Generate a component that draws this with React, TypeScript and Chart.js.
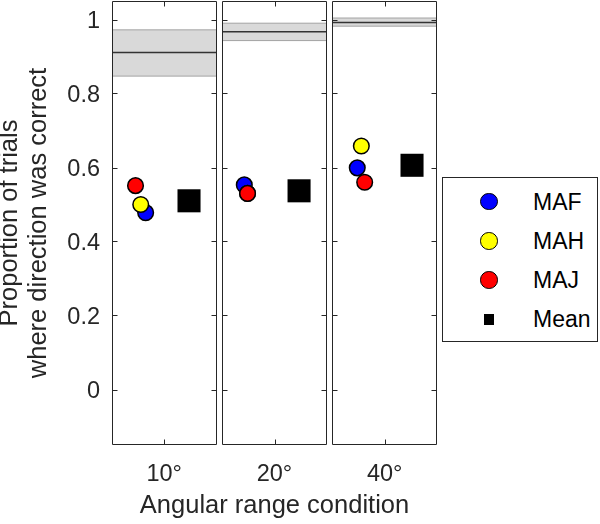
import React, { useEffect, useRef } from "react";
import { Chart, registerables } from "chart.js";

Chart.register(...registerables);

// ---------- data ----------
const categories = ["10°", "20°", "40°"];
const yTickValues = [0, 0.2, 0.4, 0.6, 0.8, 1];
const seriesNames = ["MAF", "MAH", "MAJ", "Mean"];

// ideal-observer band per condition
const idealMean = [0.911, 0.967, 0.992];
const idealLow = [0.847, 0.943, 0.982];
const idealHigh = [0.972, 0.99, 1.004];

// observers
const mafValues = [0.478, 0.553, 0.599];
const mahValues = [0.5, 0.53, 0.658];
const majValues = [0.551, 0.53, 0.56];
const meanValues = [0.51, 0.537, 0.606];

// horizontal jitter inside each panel (0..1 of the panel)
const mafJitter = [0.322, 0.211, 0.237];
const mahJitter = [0.275, 0.242, 0.276];
const majJitter = [0.225, 0.242, 0.308];
const meanJitter = [0.737, 0.735, 0.761];

// ---------- layout helpers ----------
const PANEL_SPAN = 1;
const PANEL_GAP = 0.055;
const X_MAX = categories.length * PANEL_SPAN + (categories.length - 1) * PANEL_GAP;
const panelStart = (i: number) => i * (PANEL_SPAN + PANEL_GAP);

const FONT = '"Liberation Sans", Arial, Helvetica, sans-serif';
const AXIS_COLOR = "#262626";

const seriesStyles = [
  { bg: "#0000ff", border: "#000000", style: "circle" },
  { bg: "#ffff00", border: "#000000", style: "circle" },
  { bg: "#ff0000", border: "#000000", style: "circle" },
  { bg: "#000000", border: "#000000", style: "rect" },
];

function pts(values: number[], jitter: number[]) {
  return values.map((v, i) => ({ x: panelStart(i) + jitter[i] * PANEL_SPAN, y: v }));
}

const panelFrame = {
  id: "panelFrame",
  afterDatasetsDraw(chart: any) {
    const { ctx, chartArea, scales } = chart;
    const x = scales.x;
    const y = scales.y;
    const top = Math.round(chartArea.top) + 0.5;
    const bottom = Math.round(chartArea.bottom) - 0.5;
    ctx.save();
    ctx.strokeStyle = AXIS_COLOR;
    ctx.lineWidth = 1;
    const tl = 5;
    categories.forEach((_, i) => {
      const l = Math.round(x.getPixelForValue(panelStart(i))) + 0.5;
      const r = Math.round(x.getPixelForValue(panelStart(i) + PANEL_SPAN)) - 0.5;
      ctx.beginPath();
      ctx.rect(l, top, r - l, bottom - top);
      yTickValues.forEach((v) => {
        const py = Math.round(y.getPixelForValue(v)) + 0.5;
        ctx.moveTo(l, py);
        ctx.lineTo(l + tl, py);
        ctx.moveTo(r, py);
        ctx.lineTo(r - tl, py);
      });
      const cx = Math.round(x.getPixelForValue(panelStart(i) + PANEL_SPAN / 2)) + 0.5;
      ctx.moveTo(cx, top);
      ctx.lineTo(cx, top + tl);
      ctx.moveTo(cx, bottom);
      ctx.lineTo(cx, bottom - tl);
      ctx.stroke();
    });
    ctx.restore();
  },
};

function buildDatasets() {
  const ds: any[] = [];
  categories.forEach((_, i) => {
    const s = panelStart(i);
    const e = s + PANEL_SPAN;
    ds.push({
      type: "line",
      data: [{ x: s, y: idealLow[i] }, { x: e, y: idealLow[i] }],
      borderColor: "#a3a3a3",
      borderWidth: 1,
      pointRadius: 0,
      fill: false,
      order: 10,
    });
    ds.push({
      type: "line",
      data: [{ x: s, y: idealHigh[i] }, { x: e, y: idealHigh[i] }],
      borderColor: "#a3a3a3",
      borderWidth: 1,
      pointRadius: 0,
      fill: "-1",
      backgroundColor: "#d9d9d9",
      order: 10,
    });
    ds.push({
      type: "line",
      data: [{ x: s, y: idealMean[i] }, { x: e, y: idealMean[i] }],
      borderColor: "#333333",
      borderWidth: 1.5,
      pointRadius: 0,
      fill: false,
      order: 9,
    });
  });
  const series = [
    pts(mafValues, mafJitter),
    pts(mahValues, mahJitter),
    pts(majValues, majJitter),
    pts(meanValues, meanJitter),
  ];
  series.forEach((data, k) => {
    const st = seriesStyles[k];
    const isMean = st.style === "rect";
    ds.push({
      type: "scatter",
      label: seriesNames[k],
      data,
      pointStyle: st.style,
      pointRadius: isMean ? 16.3 : 7.8,
      pointBackgroundColor: st.bg,
      pointBorderColor: st.border,
      pointBorderWidth: isMean ? 0 : 1.5,
      backgroundColor: st.bg,
      borderColor: st.border,
      showLine: false,
      order: 4 - k,
    });
  });
  return ds;
}

export default function App() {
  const canvasRef = useRef<HTMLCanvasElement>(null);

  useEffect(() => {
    Chart.defaults.font.family = FONT;
    const chart = new Chart(canvasRef.current as HTMLCanvasElement, {
      type: "scatter",
      data: { datasets: buildDatasets() },
      options: {
        responsive: false,
        animation: false,
        events: [],
        layout: { autoPadding: false, padding: { left: 0, top: 1, right: 163, bottom: 0 } },
        plugins: {
          legend: { display: false },
          tooltip: { enabled: false },
        },
        scales: {
          x: {
            type: "linear",
            position: "bottom",
            min: 0,
            max: X_MAX,
            grid: { display: false, drawTicks: false },
            border: { display: false },
            afterBuildTicks: (s: any) => {
              s.ticks = categories.map((_, i) => ({ value: panelStart(i) + PANEL_SPAN / 2 }));
            },
            ticks: {
              autoSkip: false,
              maxRotation: 0,
              padding: 15,
              color: AXIS_COLOR,
              font: { size: 23.5 },
              callback: (_v: any, idx: number) => categories[idx],
            },
            title: {
              display: true,
              text: "Angular range condition",
              color: AXIS_COLOR,
              font: { size: 25.5 },
              padding: { top: 0, bottom: 3 },
            },
            afterFit: (s: any) => {
              s.height = 79;
              s.paddingLeft = 0;
              s.paddingRight = 0;
            },
          },
          y: {
            type: "linear",
            min: -0.15,
            max: 1.05,
            grid: { display: false, drawTicks: false },
            border: { display: false },
            afterBuildTicks: (s: any) => {
              s.ticks = yTickValues.map((v) => ({ value: v }));
            },
            ticks: {
              padding: 12,
              labelOffset: 2,
              color: AXIS_COLOR,
              font: { size: 23.5 },
              callback: (v: any) => String(+Number(v).toFixed(1)),
            },
            title: {
              display: true,
              text: ["Proportion of trials", "where direction was correct"],
              color: AXIS_COLOR,
              font: { size: 25.5, lineHeight: 1.13 },
              padding: { top: -4, bottom: 0 },
            },
            afterFit: (s: any) => {
              s.width = 112;
              s.paddingTop = 0;
              s.paddingBottom = 0;
            },
          },
        },
      },
      plugins: [panelFrame],
    } as any);
    return () => chart.destroy();
  }, []);

  const rowTop = [24.7, 63.9, 103.1, 142.3];

  return (
    <div
      style={{
        position: "absolute",
        left: 0,
        top: 0,
        width: 600,
        height: 524,
        background: "#ffffff",
        fontFamily: FONT,
      }}
    >
      <canvas
        ref={canvasRef}
        width={600}
        height={524}
        style={{ position: "absolute", left: 0, top: 0, width: 600, height: 524 }}
      />
      <div
        style={{
          position: "absolute",
          left: 442,
          top: 177,
          width: 156,
          height: 165,
          boxSizing: "border-box",
          border: "1px solid #262626",
          background: "#ffffff",
        }}
      >
        {seriesNames.map((name, k) => {
          const st = seriesStyles[k];
          const isMean = st.style === "rect";
          const size = isMean ? 10.5 : 17.5;
          return (
            <div key={name}>
              <div
                style={{
                  position: "absolute",
                  left: 46 - size / 2,
                  top: rowTop[k] - size / 2 - 1,
                  width: size,
                  height: size,
                  boxSizing: "border-box",
                  borderRadius: isMean ? 0 : "50%",
                  background: st.bg,
                  border: isMean ? "none" : "1.5px solid #000",
                }}
              />
              <div
                style={{
                  position: "absolute",
                  left: 90,
                  top: rowTop[k] - 1 - 15,
                  height: 30,
                  lineHeight: "30px",
                  fontSize: 23,
                  color: "#000",
                  whiteSpace: "nowrap",
                }}
              >
                {name}
              </div>
            </div>
          );
        })}
      </div>
    </div>
  );
}
